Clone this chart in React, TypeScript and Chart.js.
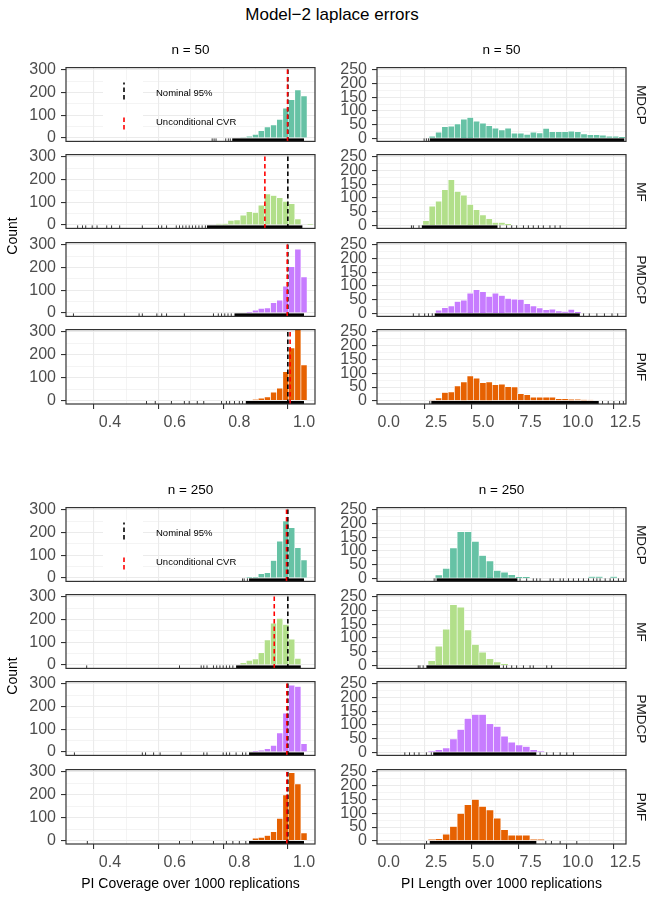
import React, { useEffect, useRef } from "react";
import { Chart, registerables } from "chart.js";

Chart.register(...registerables);

// ---------- categories ----------
const methods = ["MDCP", "MF", "PMDCP", "PMF"];
const methodColors = ["#66C2A5", "#B2DF8A", "#C77CFF", "#E66101"];
const sampleSizes = ["n = 50", "n = 250"];
const legendLabels = ["Nominal 95%", "Unconditional CVR"];
const legendColors = ["#000000", "#FF0000"];

// ---------- axis ticks ----------
const coverageGrid = [0.3, 0.4, 0.5, 0.6, 0.7, 0.8, 0.9, 1.0];
const coverageTickLabels = ["", "0.4", "", "0.6", "", "0.8", "", "1.0"];
const lengthGrid = [0, 1.25, 2.5, 3.75, 5, 6.25, 7.5, 8.75, 10, 11.25, 12.5];
const lengthTickLabels = ["0.0", "", "2.5", "", "5.0", "", "7.5", "", "10.0", "", "12.5"];
const countGridCoverage = [0, 50, 100, 150, 200, 250, 300];
const countLabelsCoverage = ["0", "", "100", "", "200", "", "300"];
const countGridLength = [0, 25, 50, 75, 100, 125, 150, 175, 200, 225, 250];
const countLabelsLength = ["0", "", "50", "", "100", "", "150", "", "200", "", "250"];

const coverageRange = [0.264, 1.034];
const lengthRange = [-0.62, 12.54];
const countRangeCoverage = [-15, 310];
const countRangeLength = [-11.5, 258.5];

// ---------- histogram bins ----------
const coverageBins = [0.718, 0.737, 0.756, 0.774, 0.793, 0.812, 0.831, 0.85, 0.868, 0.887, 0.906, 0.925, 0.944, 0.962, 0.981, 1.0, 1.019];
const coverageBinWidth = 0.0188;

const lengthBins50 = [1.97, 2.3, 2.64, 2.97, 3.31, 3.64, 3.97, 4.31, 4.64, 4.98, 5.31, 5.64, 5.98, 6.31, 6.65, 6.98, 7.32, 7.65, 7.98, 8.32, 8.65, 8.99, 9.32, 9.65, 9.99, 10.32, 10.66, 10.99, 11.32, 11.66, 11.99, 12.33];
const lengthBinWidth50 = 0.334;

const lengthBins250 = [2.27, 2.65, 3.04, 3.42, 3.81, 4.19, 4.58, 4.96, 5.35, 5.73, 6.12, 6.5, 6.89, 7.27, 7.66, 8.04, 8.43, 8.81, 9.2, 9.58, 9.97, 10.35, 10.74, 11.12, 11.51, 11.89, 12.28];
const lengthBinWidth250 = 0.385;

// ---------- counts: PI coverage ----------
const coverageMDCP50 = [0, 0, 0, 0, 0, 2, 7, 16, 32, 49, 57, 82, 131, 168, 211, 185, 0];
const coverageMF50 = [0, 5, 6, 20, 22, 43, 58, 55, 87, 137, 130, 120, 104, 94, 26, 0, 3];
const coveragePMDCP50 = [0, 0, 0, 0, 0, 0, 3, 12, 20, 22, 45, 56, 118, 204, 281, 159, 0];
const coveragePMF50 = [0, 0, 0, 0, 0, 0, 0, 4, 10, 16, 36, 54, 126, 230, 315, 155, 0];

const coverageMDCP250 = [0, 0, 0, 0, 0, 0, 3, 3, 19, 23, 77, 162, 251, 221, 133, 79, 0];
const coverageMF250 = [0, 0, 0, 0, 0, 10, 20, 27, 54, 110, 184, 205, 178, 113, 29, 0, 0];
const coveragePMDCP250 = [0, 0, 0, 0, 0, 0, 0, 3, 7, 14, 29, 84, 171, 294, 288, 36, 0];
const coveragePMF250 = [0, 0, 0, 0, 0, 0, 0, 10, 14, 22, 39, 97, 199, 296, 247, 33, 0];

// ---------- counts: PI length ----------
const lengthMDCP50 = [0, 7, 22, 42, 44, 52, 70, 76, 62, 55, 46, 37, 30, 37, 18, 18, 14, 22, 19, 36, 24, 24, 24, 26, 24, 16, 13, 13, 11, 7, 7, 5];
const lengthMF50 = [17, 70, 88, 130, 167, 124, 110, 76, 57, 38, 24, 10, 10, 4, 0, 0, 0, 0, 0, 0, 0, 0, 0, 0, 0, 0, 0, 0, 0, 0, 0, 0];
const lengthPMDCP50 = [0, 0, 11, 20, 27, 43, 48, 73, 86, 79, 61, 73, 65, 54, 51, 50, 35, 27, 19, 13, 15, 8, 6, 14, 5, 0, 0, 0, 0, 0, 0, 0];
const lengthPMF50 = [0, 3, 10, 30, 32, 54, 68, 90, 82, 66, 68, 58, 60, 51, 50, 26, 22, 13, 13, 13, 13, 8, 8, 6, 5, 4, 3, 0, 0, 0, 0, 0];

const lengthMDCP250 = [0, 12, 36, 111, 170, 170, 135, 83, 63, 28, 22, 13, 5, 5, 0, 0, 0, 0, 0, 0, 0, 0, 6, 6, 0, 6, 0];
const lengthMF250 = [17, 70, 132, 221, 212, 129, 76, 48, 24, 12, 5, 0, 0, 0, 0, 0, 0, 0, 0, 0, 0, 0, 0, 0, 0, 0, 0];
const lengthPMDCP250 = [3, 9, 16, 49, 83, 124, 138, 138, 104, 94, 59, 37, 27, 21, 9, 3, 0, 0, 0, 0, 0, 0, 0, 0, 0, 0, 0];
const lengthPMF250 = [5, 8, 24, 52, 99, 131, 150, 125, 112, 82, 40, 20, 20, 20, 5, 5, 0, 0, 0, 0, 0, 0, 0, 0, 0, 0, 0];

// ---------- reference lines ----------
const nominalLevel = 0.95;
const unconditionalCVR50 = [0.949, 0.879, 0.948, 0.957];
const unconditionalCVR250 = [0.946, 0.908, 0.947, 0.947];

// ---------- rug: isolated replications and dense stretches ----------
const rugTicksCoverage50 = [
  [0.716, 0.722, 0.728, 0.758, 0.766, 0.772],
  [0.3, 0.315, 0.325, 0.345, 0.36, 0.39, 0.405, 0.43, 0.5, 0.55, 0.56, 0.575, 0.605, 0.615, 0.625, 0.635, 0.645, 0.655, 0.665, 0.675, 0.685, 0.695],
  [0.287, 0.49, 0.5, 0.545, 0.56, 0.575, 0.63, 0.72, 0.735, 0.745, 0.755, 0.765, 0.775],
  [0.513, 0.54, 0.59, 0.63, 0.645, 0.67, 0.69, 0.745, 0.76, 0.77, 0.785, 0.8, 0.81],
];
const rugBandsCoverage50 = [[[0.778, 1.0]], [[0.7, 0.995]], [[0.785, 1.0]], [[0.82, 1.0]]];

const rugTicksLength50 = [
  [1.87, 1.99, 2.1],
  [1.2, 1.3, 1.6, 5.88, 6.23, 6.5, 6.76, 7.12, 7.38, 7.64, 7.91, 8.17, 8.52, 8.79, 9.06],
  [1.3, 1.6, 1.9, 2.1, 2.3, 10.3, 10.6, 11.0, 11.4, 11.8, 12.1],
  [2.17, 11.3, 11.6, 11.9, 12.2, 12.4],
];
const rugBandsLength50 = [[[2.17, 12.45]], [[1.75, 5.75]], [[2.43, 10.1]], [[2.25, 11.1]]];

const rugTicksCoverage250 = [
  [0.81, 0.815, 0.825],
  [0.328, 0.615, 0.682, 0.69, 0.7, 0.72, 0.73, 0.74, 0.75, 0.76, 0.77, 0.78],
  [0.29, 0.5, 0.51, 0.535, 0.555, 0.62, 0.69, 0.7, 0.75, 0.76, 0.77, 0.79, 0.81, 0.82],
  [0.33, 0.615, 0.655, 0.72, 0.76, 0.78, 0.8, 0.82],
];
const rugBandsCoverage250 = [[[0.83, 1.0]], [[0.79, 0.99]], [[0.83, 1.0]], [[0.83, 1.0]]];

const rugTicksLength250 = [
  [2.4, 2.5, 6.94, 7.29, 7.64, 7.82, 8.0, 8.53, 8.7, 9.06, 9.23, 9.5, 9.76, 10.03, 10.29, 10.56, 10.82, 11.0, 11.17, 11.44, 11.7, 11.88, 12.14, 12.41],
  [1.56, 1.65, 1.82, 6.06, 6.23, 6.5, 6.76, 7.12, 7.47, 7.64, 8.35, 8.61],
  [0.85, 1.1, 1.35, 1.6, 1.99, 2.25, 8.0, 8.35, 8.7, 9.06, 9.41, 9.76],
  [2.0, 8.3, 8.6, 9.06, 9.94],
];
const rugBandsLength250 = [[[2.55, 6.8]], [[1.99, 5.88]], [[2.35, 7.8]], [[2.17, 7.8]]];

// ---------- page layout ----------
const FONT = "'Liberation Sans', Arial, Helvetica, sans-serif";
const COLUMN_LEFT = [66, 377];
const PANEL_W = 249;
const PANEL_H = 75;
const ROW_TOPS = [
  [67, 154, 242, 329],
  [507, 594, 681, 769],
];
const Y_AXIS_W = 60;
const PAD_T = 14;
const PAD_B = 14;
const PAD_R = 20;
const X_AXIS_H = 34;
const RUG_H = 3;

const groupData = [
  {
    coverage: [coverageMDCP50, coverageMF50, coveragePMDCP50, coveragePMF50],
    length: [lengthMDCP50, lengthMF50, lengthPMDCP50, lengthPMF50],
    lengthBins: lengthBins50,
    lengthBinWidth: lengthBinWidth50,
    cvr: unconditionalCVR50,
    rugTicksCov: rugTicksCoverage50,
    rugBandsCov: rugBandsCoverage50,
    rugTicksLen: rugTicksLength50,
    rugBandsLen: rugBandsLength50,
  },
  {
    coverage: [coverageMDCP250, coverageMF250, coveragePMDCP250, coveragePMF250],
    length: [lengthMDCP250, lengthMF250, lengthPMDCP250, lengthPMF250],
    lengthBins: lengthBins250,
    lengthBinWidth: lengthBinWidth250,
    cvr: unconditionalCVR250,
    rugTicksCov: rugTicksCoverage250,
    rugBandsCov: rugBandsCoverage250,
    rugTicksLen: rugTicksLength250,
    rugBandsLen: rugBandsLength250,
  },
];

type Vline = { value: number; color: string };
type PanelSpec = {
  key: string;
  kind: "cov" | "len";
  left: number;
  top: number;
  bins: number[];
  binWidth: number;
  counts: number[];
  color: string;
  rugTicks: number[];
  rugBands: number[][];
  vlines: Vline[];
  showX: boolean;
  legend: boolean;
};

const panels: PanelSpec[] = [];
groupData.forEach((g, gi) => {
  methods.forEach((m, mi) => {
    const top = ROW_TOPS[gi][mi];
    const showX = mi === methods.length - 1;
    panels.push({
      key: `cov-${gi}-${m}`,
      kind: "cov",
      left: COLUMN_LEFT[0],
      top,
      bins: coverageBins,
      binWidth: coverageBinWidth,
      counts: g.coverage[mi],
      color: methodColors[mi],
      rugTicks: g.rugTicksCov[mi],
      rugBands: g.rugBandsCov[mi],
      vlines: [
        { value: nominalLevel, color: legendColors[0] },
        { value: g.cvr[mi], color: legendColors[1] },
      ],
      showX,
      legend: mi === 0,
    });
    panels.push({
      key: `len-${gi}-${m}`,
      kind: "len",
      left: COLUMN_LEFT[1],
      top,
      bins: g.lengthBins,
      binWidth: g.lengthBinWidth,
      counts: g.length[mi],
      color: methodColors[mi],
      rugTicks: g.rugTicksLen[mi],
      rugBands: g.rugBandsLen[mi],
      vlines: [],
      showX,
      legend: false,
    });
  });
});

function buildChart(canvas: HTMLCanvasElement, p: PanelSpec) {
  const isCov = p.kind === "cov";
  const xr = isCov ? coverageRange : lengthRange;
  const yr = isCov ? countRangeCoverage : countRangeLength;
  const xGrid = isCov ? coverageGrid : lengthGrid;
  const xLabels = isCov ? coverageTickLabels : lengthTickLabels;
  const yGrid = isCov ? countGridCoverage : countGridLength;
  const yLabels = isCov ? countLabelsCoverage : countLabelsLength;
  const barPx = (p.binWidth / (xr[1] - xr[0])) * PANEL_W;

  const decor = {
    id: "panelDecor",
    afterDatasetsDraw(chart: any) {
      const { ctx, chartArea: a } = chart;
      const xs = chart.scales.x;
      ctx.save();
      ctx.beginPath();
      ctx.rect(a.left, a.top, a.right - a.left, a.bottom - a.top);
      ctx.clip();
      // rug along the bottom edge
      ctx.fillStyle = "#000000";
      for (const [lo, hi] of p.rugBands) {
        const x0 = xs.getPixelForValue(lo);
        const x1 = xs.getPixelForValue(hi);
        ctx.fillRect(x0, a.bottom - RUG_H, x1 - x0, RUG_H);
      }
      ctx.strokeStyle = "#000000";
      ctx.lineWidth = 0.8;
      for (const v of p.rugTicks) {
        const px = xs.getPixelForValue(v);
        ctx.beginPath();
        ctx.moveTo(px, a.bottom);
        ctx.lineTo(px, a.bottom - RUG_H);
        ctx.stroke();
      }
      // dashed reference lines
      ctx.lineWidth = 1.6;
      ctx.setLineDash([4.5, 3]);
      for (const l of p.vlines) {
        const px = xs.getPixelForValue(l.value);
        ctx.strokeStyle = l.color;
        ctx.beginPath();
        ctx.moveTo(px, a.bottom);
        ctx.lineTo(px, a.top);
        ctx.stroke();
      }
      // legend keys on white key backgrounds
      if (p.legend) {
        legendColors.forEach((c, i) => {
          const kt = a.top + (i === 0 ? 13 : 45);
          const kh = i === 0 ? 20 : 18;
          ctx.fillStyle = "#FFFFFF";
          ctx.fillRect(a.left + 37, kt, 40, kh);
          ctx.strokeStyle = c;
          ctx.beginPath();
          ctx.moveTo(a.left + 58, kt + kh - 1);
          ctx.lineTo(a.left + 58, kt + 2);
          ctx.stroke();
        });
      }
      ctx.restore();
      // panel border
      ctx.save();
      ctx.strokeStyle = "#333333";
      ctx.lineWidth = 1.2;
      ctx.strokeRect(a.left, a.top, a.right - a.left, a.bottom - a.top);
      ctx.restore();
    },
  };

  const tickFont = { family: FONT, size: 16 };

  return new Chart(canvas, {
    type: "bar",
    data: {
      datasets: [
        {
          data: p.bins.map((x, i) => ({ x, y: p.counts[i] })),
          backgroundColor: p.color,
          borderColor: "#FFFFFF",
          borderWidth: 0.6,
          borderSkipped: "start",
          barThickness: barPx,
        } as any,
      ],
    },
    options: {
      animation: false,
      responsive: false,
      maintainAspectRatio: false,
      devicePixelRatio: 1,
      events: [],
      layout: { padding: { top: PAD_T, right: PAD_R, bottom: PAD_B, left: 0 } },
      plugins: { legend: { display: false }, tooltip: { enabled: false } },
      scales: {
        x: {
          type: "linear",
          min: xr[0],
          max: xr[1],
          offset: false,
          afterBuildTicks: (s: any) => {
            s.ticks = xGrid.map((v) => ({ value: v }));
          },
          afterFit: (s: any) => {
            s.height = p.showX ? X_AXIS_H : 0;
          },
          ticks: {
            display: p.showX,
            autoSkip: false,
            maxRotation: 0,
            padding: 4,
            color: "#4D4D4D",
            font: tickFont,
            callback: (_v: any, i: number) => xLabels[i],
          },
          grid: {
            color: "#EBEBEB",
            lineWidth: (c: any) => (xLabels[c.index] ? 1.1 : 0.55),
            drawTicks: p.showX,
            tickLength: 5,
            tickWidth: 1.1,
            tickColor: (c: any) => (xLabels[c.index] ? "#333333" : "rgba(0,0,0,0)"),
          },
          border: { display: false },
        },
        y: {
          type: "linear",
          min: yr[0],
          max: yr[1],
          afterBuildTicks: (s: any) => {
            s.ticks = yGrid.map((v) => ({ value: v }));
          },
          afterFit: (s: any) => {
            s.width = Y_AXIS_W;
          },
          ticks: {
            autoSkip: false,
            padding: 5,
            color: "#4D4D4D",
            font: tickFont,
            callback: (_v: any, i: number) => yLabels[i],
          },
          grid: {
            color: "#EBEBEB",
            lineWidth: (c: any) => (yLabels[c.index] ? 1.1 : 0.55),
            drawTicks: true,
            tickLength: 5,
            tickWidth: 1.1,
            tickColor: (c: any) => (yLabels[c.index] ? "#333333" : "rgba(0,0,0,0)"),
          },
          border: { display: false },
        },
      },
    } as any,
    plugins: [decor],
  });
}

function PanelChart({ p }: { p: PanelSpec }) {
  const ref = useRef<HTMLCanvasElement>(null);
  const w = Y_AXIS_W + PANEL_W + PAD_R;
  const h = PAD_T + PANEL_H + PAD_B + (p.showX ? X_AXIS_H : 0);
  useEffect(() => {
    if (!ref.current) return;
    const chart = buildChart(ref.current, p);
    return () => chart.destroy();
  }, [p]);
  return (
    <canvas
      ref={ref}
      width={w}
      height={h}
      style={{ position: "absolute", left: p.left - Y_AXIS_W, top: p.top - PAD_T, width: w, height: h }}
    />
  );
}

function Label({
  x,
  y,
  size,
  color = "#000000",
  rotate = 0,
  align = "center",
  children,
}: {
  x: number;
  y: number;
  size: number;
  color?: string;
  rotate?: number;
  align?: "center" | "left";
  children: React.ReactNode;
}) {
  const tx = align === "center" ? "-50%" : "0";
  return (
    <div
      style={{
        position: "absolute",
        left: x,
        top: y,
        fontSize: size,
        color,
        lineHeight: 1,
        whiteSpace: "nowrap",
        transform: `translate(${tx}, -50%) rotate(${rotate}deg)`,
      }}
    >
      {children}
    </div>
  );
}

export default function App() {
  const colCentres = COLUMN_LEFT.map((l) => l + PANEL_W / 2);
  return (
    <div
      style={{
        position: "absolute",
        left: 0,
        top: 0,
        width: 655,
        height: 898,
        background: "#FFFFFF",
        overflow: "hidden",
        fontFamily: FONT,
      }}
    >
      <Label x={332} y={14} size={17}>
        Model−2 laplace errors
      </Label>

      {panels.map((p) => (
        <PanelChart key={p.key} p={p} />
      ))}

      {ROW_TOPS.map((tops, gi) => (
        <React.Fragment key={`g${gi}`}>
          {colCentres.map((cx, ci) => (
            <Label key={`n${ci}`} x={cx} y={tops[0] - 17} size={13.5}>
              {sampleSizes[gi]}
            </Label>
          ))}
          <Label x={12} y={(tops[0] + tops[3] + PANEL_H) / 2} size={14} rotate={-90}>
            Count
          </Label>
          {methods.map((m, mi) => (
            <Label key={m} x={641} y={tops[mi] + PANEL_H / 2} size={13.5} color="#1A1A1A" rotate={90}>
              {m}
            </Label>
          ))}
          {legendLabels.map((t, li) => (
            <Label key={t} x={156} y={tops[0] + (li === 0 ? 26 : 55)} size={9.5} align="left">
              {t}
            </Label>
          ))}
        </React.Fragment>
      ))}

      <Label x={colCentres[0]} y={883} size={14}>
        PI Coverage over 1000 replications
      </Label>
      <Label x={colCentres[1]} y={883} size={14}>
        PI Length over 1000 replications
      </Label>
    </div>
  );
}
